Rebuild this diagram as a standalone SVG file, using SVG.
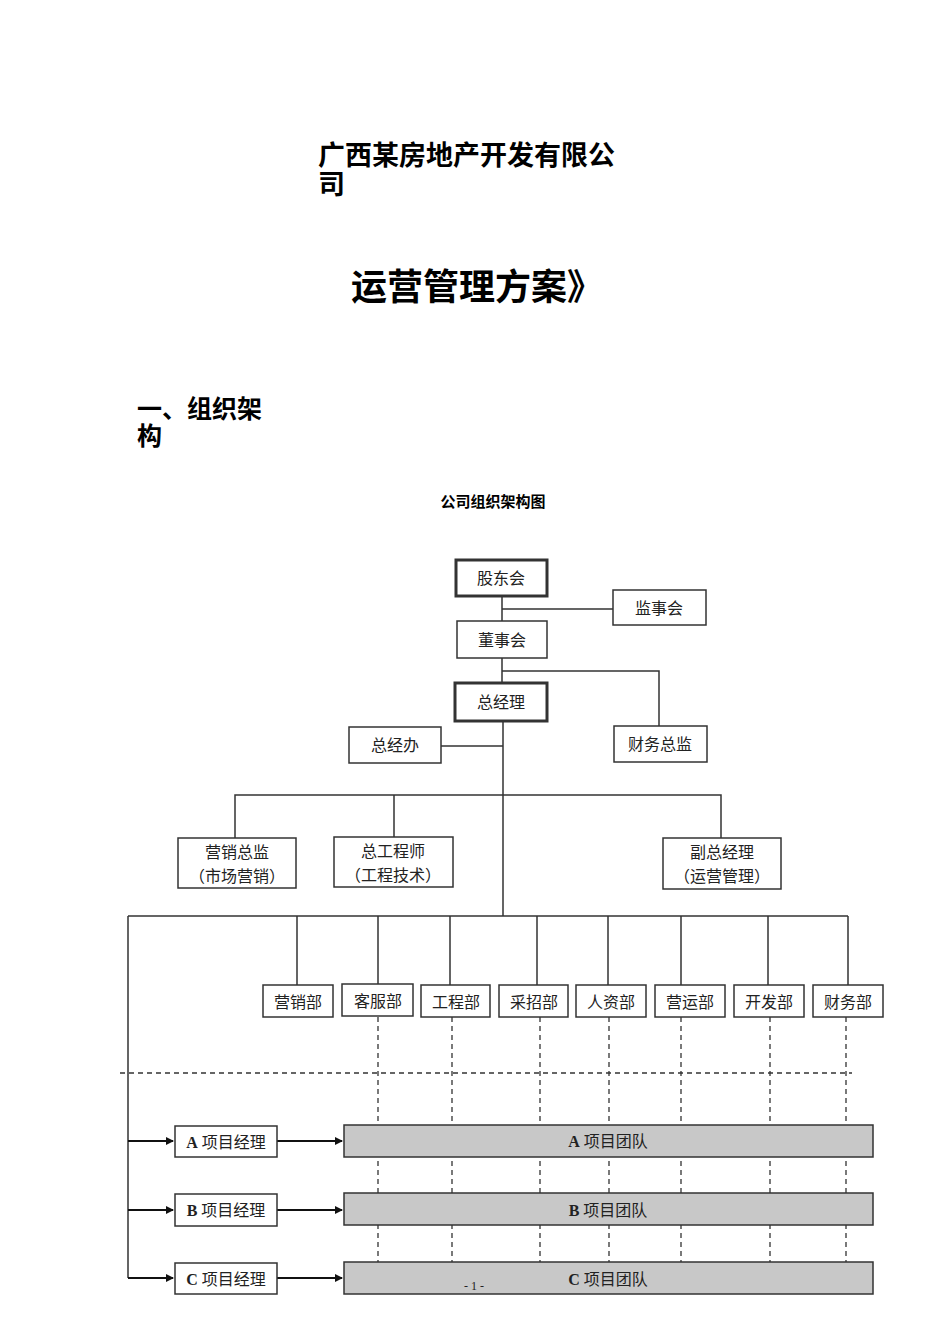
<svg xmlns="http://www.w3.org/2000/svg" width="950" height="1344" viewBox="0 0 950 1344">
<style>
text{font-family:"Liberation Serif","Noto Sans CJK SC",serif;fill:#222}
.h{font-family:"Liberation Sans","Noto Sans CJK SC",sans-serif;font-weight:bold;fill:#000}
.b rect{fill:#fff;stroke:#333;stroke-width:1.5}
.t rect{stroke-width:3}
.n{font-size:16px;text-anchor:middle}
.ln{stroke:#333;stroke-width:1.5;fill:none}
.ds{stroke:#333;stroke-width:1.3;stroke-dasharray:5 4;fill:none}
.tm rect{fill:#c8c8c8;stroke:#333;stroke-width:1.5}
.ar{stroke:#111;stroke-width:2;fill:none;marker-end:url(#a)}
</style>
<defs><marker id="a" markerWidth="8" markerHeight="8" refX="7" refY="4" orient="auto" markerUnits="userSpaceOnUse"><path d="M0,0L8,4L0,8z" fill="#111"/></marker></defs>
<rect width="950" height="1344" fill="#fff"/>
<text class="h" x="318" y="165" font-size="27">广西某房地产开发有限公</text>
<text class="h" x="318" y="194" font-size="27">司</text>
<text class="h" x="477" y="300" font-size="36" text-anchor="middle">运营管理方案》</text>
<text class="h" x="137" y="418" font-size="25">一、组织架</text>
<text class="h" x="137" y="445" font-size="25">构</text>
<text class="h" x="493" y="507" font-size="15" text-anchor="middle">公司组织架构图</text>
<g id="connectors">
<path class="ln" d="M502,596V683M502,609H613M502,671H659V726M503,721V916M441,746H503M235,838V795H721V838M394,795V837M128,916H848M128,916V1278"/>
<path class="ln" d="M297,916V985M378,916V985M450,916V985M537,916V985M608,916V985M681,916V985M768,916V985M848,916V985"/>
<path class="ds" d="M378,1017V1295M452,1017V1295M540,1017V1295M609,1017V1295M681,1017V1295M770,1017V1295M846,1017V1295"/>
<path class="ds" d="M120,1073H852"/>
<path class="ar" d="M128,1141H173"/><path class="ar" d="M128,1210H173"/><path class="ar" d="M128,1278H173"/>
<path class="ar" d="M277,1141H342"/><path class="ar" d="M277,1210H342"/><path class="ar" d="M277,1278H342"/>
</g>
<g id="gd" class="b t"><rect x="456" y="560" width="91" height="36"/><text class="n" x="501" y="584">股东会</text></g>
<g id="jsh" class="b"><rect x="613" y="590" width="93" height="35"/><text class="n" x="659" y="614">监事会</text></g>
<g id="dsh" class="b"><rect x="457" y="621" width="90" height="37"/><text class="n" x="502" y="646">董事会</text></g>
<g id="zjl" class="b t"><rect x="455" y="683" width="92" height="38"/><text class="n" x="501" y="708">总经理</text></g>
<g id="zjb" class="b"><rect x="349" y="727" width="92" height="36"/><text class="n" x="395" y="751">总经办</text></g>
<g id="cwzj" class="b"><rect x="614" y="726" width="93" height="36"/><text class="n" x="660" y="750">财务总监</text></g>
<g id="yxzj" class="b"><rect x="178" y="838" width="118" height="50"/><text class="n" x="237" y="858">营销总监</text><text class="n" x="237" y="882">（市场营销）</text></g>
<g id="zgcs" class="b"><rect x="334" y="837" width="119" height="50"/><text class="n" x="393" y="857">总工程师</text><text class="n" x="393" y="881">（工程技术）</text></g>
<g id="fzjl" class="b"><rect x="663" y="838" width="118" height="51"/><text class="n" x="722" y="858">副总经理</text><text class="n" x="722" y="882">（运营管理）</text></g>
<g id="d1" class="b"><rect x="263" y="985" width="70" height="32"/><text class="n" x="298" y="1008">营销部</text></g>
<g id="d2" class="b"><rect x="342" y="984" width="71" height="32"/><text class="n" x="378" y="1007">客服部</text></g>
<g id="d3" class="b"><rect x="421" y="985" width="69" height="32"/><text class="n" x="456" y="1008">工程部</text></g>
<g id="d4" class="b"><rect x="499" y="985" width="69" height="32"/><text class="n" x="534" y="1008">采招部</text></g>
<g id="d5" class="b"><rect x="576" y="985" width="70" height="32"/><text class="n" x="611" y="1008">人资部</text></g>
<g id="d6" class="b"><rect x="655" y="985" width="70" height="32"/><text class="n" x="690" y="1008">营运部</text></g>
<g id="d7" class="b"><rect x="734" y="985" width="70" height="32"/><text class="n" x="769" y="1008">开发部</text></g>
<g id="d8" class="b"><rect x="813" y="985" width="70" height="32"/><text class="n" x="848" y="1008">财务部</text></g>
<g id="pa" class="b"><rect x="175" y="1126" width="102" height="31"/><text class="n" x="226" y="1148"><tspan font-weight="bold">A</tspan> 项目经理</text></g>
<g id="pb" class="b"><rect x="175" y="1194" width="102" height="32"/><text class="n" x="226" y="1216"><tspan font-weight="bold">B</tspan> 项目经理</text></g>
<g id="pc" class="b"><rect x="175" y="1263" width="102" height="31"/><text class="n" x="226" y="1285"><tspan font-weight="bold">C</tspan> 项目经理</text></g>
<g id="ta" class="tm"><rect x="344" y="1125" width="529" height="32"/><text class="n" x="608" y="1147"><tspan font-weight="bold">A</tspan> 项目团队</text></g>
<g id="tb" class="tm"><rect x="344" y="1193" width="529" height="32"/><text class="n" x="608" y="1216"><tspan font-weight="bold">B</tspan> 项目团队</text></g>
<g id="tc" class="tm"><rect x="344" y="1262" width="529" height="32"/><text class="n" x="608" y="1285"><tspan font-weight="bold">C</tspan> 项目团队</text></g>
<text x="474" y="1290" font-size="12" text-anchor="middle">- 1 -</text>
</svg>
